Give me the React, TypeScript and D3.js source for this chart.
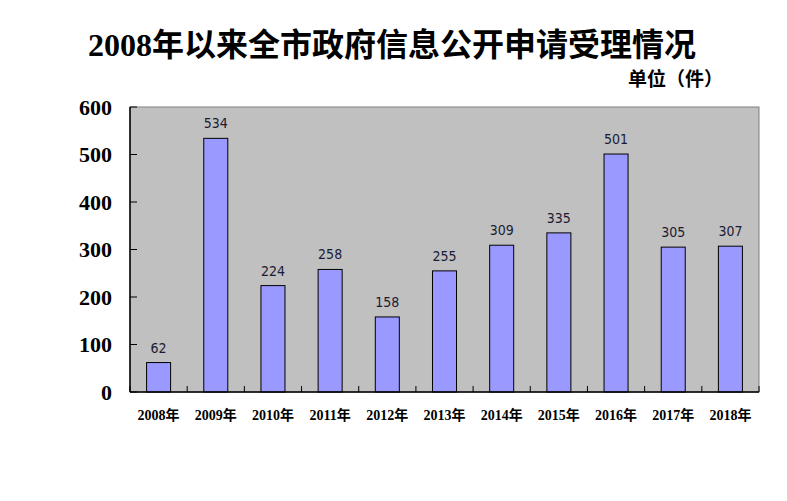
import * as d3 from "d3";
import React from "react";

const years = ["2008年", "2009年", "2010年", "2011年", "2012年", "2013年", "2014年", "2015年", "2016年", "2017年", "2018年"];
const counts = [62, 534, 224, 258, 158, 255, 309, 335, 501, 305, 307];
const yTicks = [0, 100, 200, 300, 400, 500, 600];

const W = 787;
const H = 501;
const m = { top: 107, right: 28, bottom: 109, left: 130 };

export default function App() {
  const x = d3
    .scaleBand<string>()
    .domain(years)
    .range([m.left, W - m.right])
    .paddingInner(0.58)
    .paddingOuter(0.29);

  const y = d3
    .scaleLinear()
    .domain([0, 600])
    .range([H - m.bottom, m.top]);

  const step = x.step();
  const x0 = m.left;
  const x1 = W - m.right;
  const serif = "'Times New Roman', 'Liberation Serif', 'Noto Sans CJK SC', serif";

  return (
    <svg width={W} height={H} style={{ position: "absolute", left: 0, top: 0, background: "#fff" }}>
      {/* title */}
      <text x={392} y={56} textAnchor="middle" fontFamily={serif} fontWeight="bold" fontSize={32} fill="#000">
        2008年以来全市政府信息公开申请受理情况
      </text>
      <text x={723} y={86} textAnchor="end" fontFamily={serif} fontWeight="bold" fontSize={19} fill="#000">
        单位（件）
      </text>

      {/* plot area */}
      <rect x={x0} y={y(600)} width={x1 - x0} height={y(0) - y(600)} fill="#c0c0c0" stroke="#808080" strokeWidth={1} />

      {/* bars */}
      {years.map((yr, i) => (
        <g key={yr}>
          <rect
            x={x(yr)}
            y={y(counts[i])}
            width={x.bandwidth()}
            height={y(0) - y(counts[i])}
            fill="#9999ff"
            stroke="#000"
            strokeWidth={1}
          />
          <text
            x={x(yr)! + x.bandwidth() / 2}
            y={y(counts[i]) - 10}
            textAnchor="middle"
            fontFamily="'DejaVu Sans Condensed', 'Liberation Sans Narrow', sans-serif"
            fontSize={14}
            fill="#1a1a33"
          >
            {counts[i]}
          </text>
          <text
            x={x0 + step * (i + 0.5)}
            y={420}
            textAnchor="middle"
            fontFamily={serif}
            fontWeight="bold"
            fontSize={14}
            fill="#000"
          >
            {yr}
          </text>
        </g>
      ))}

      {/* y axis */}
      <line x1={x0} x2={x0} y1={y(600)} y2={y(0)} stroke="#000" strokeWidth={1.5} />
      {yTicks.map((t) => (
        <g key={t}>
          <line x1={x0} x2={x0 + 7} y1={y(t)} y2={y(t)} stroke="#000" />
          <text
            x={112}
            y={y(t)}
            textAnchor="end"
            dominantBaseline="central"
            fontFamily={serif}
            fontWeight="bold"
            fontSize={22}
            fill="#000"
          >
            {t}
          </text>
        </g>
      ))}

      {/* x axis */}
      <line x1={x0} x2={x1} y1={y(0)} y2={y(0)} stroke="#000" strokeWidth={1.5} />
      {d3.range(years.length + 1).map((i) => (
        <line key={i} x1={x0 + step * i} x2={x0 + step * i} y1={y(0)} y2={y(0) - 6} stroke="#000" />
      ))}
    </svg>
  );
}
